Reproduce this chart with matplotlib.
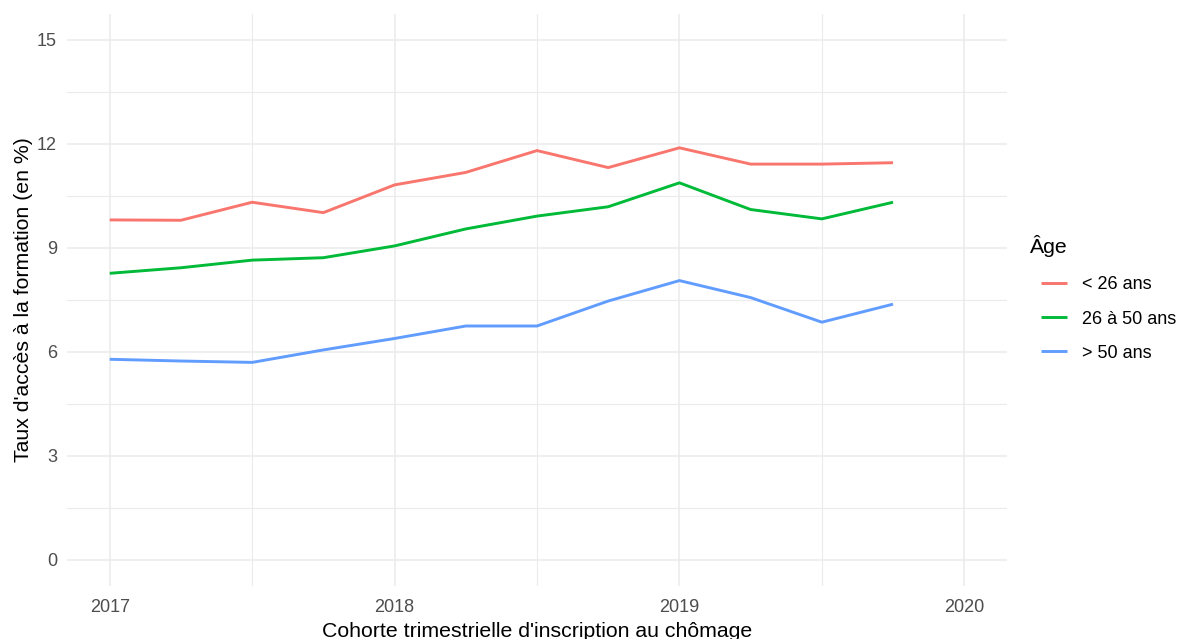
"""Taux d'accès à la formation par cohorte trimestrielle et par âge."""

import matplotlib

matplotlib.use("Agg")
import matplotlib.pyplot as plt
from matplotlib.ticker import MultipleLocator

plt.rcParams["font.family"] = ["Liberation Sans", "DejaVu Sans"]

# quarterly cohorts, 2017 Q1 .. 2019 Q4 (as decimal years)
cohortes = [2017.0, 2017.25, 2017.5, 2017.75,
            2018.0, 2018.25, 2018.5, 2018.75,
            2019.0, 2019.25, 2019.5, 2019.75]

moins_26 = [9.81, 9.80, 10.32, 10.02, 10.82, 11.18,
            11.81, 11.32, 11.89, 11.42, 11.42, 11.46]
de_26_a_50 = [8.27, 8.43, 8.65, 8.72, 9.06, 9.55,
              9.92, 10.19, 10.88, 10.11, 9.84, 10.32]
plus_50 = [5.79, 5.74, 5.70, 6.06, 6.39, 6.75,
           6.75, 7.47, 8.06, 7.57, 6.86, 7.38]

series_labels = ["< 26 ans", "26 à 50 ans", "> 50 ans"]
series_colors = ["#F8766D", "#00BA38", "#619CFF"]

x_ticks = [2017, 2018, 2019, 2020]
y_ticks = [0, 3, 6, 9, 12, 15]

W, H = 1179, 639
fig = plt.figure(figsize=(W / 100, H / 100), dpi=100)
ax = fig.add_axes([67 / W, 1 - 586 / H, 940 / W, 572 / H])

for values, label, color in zip(
    (moins_26, de_26_a_50, plus_50), series_labels, series_colors, strict=True
):
    ax.plot(cohortes, values, color=color, linewidth=2.1, label=label,
            solid_capstyle="butt")

ax.set_xlim(2016.85, 2020.15)
ax.set_ylim(-0.75, 15.75)
ax.set_xticks(x_ticks)
ax.set_yticks(y_ticks)
ax.xaxis.set_minor_locator(MultipleLocator(0.5))
ax.yaxis.set_minor_locator(MultipleLocator(1.5))

ax.grid(which="major", color="#EBEBEB", linewidth=1.1)
ax.grid(which="minor", color="#EBEBEB", linewidth=0.8)
ax.set_axisbelow(True)
for spine in ax.spines.values():
    spine.set_visible(False)
ax.tick_params(which="both", length=0)
ax.tick_params(axis="both", labelsize=13, labelcolor="#4D4D4D")
ax.tick_params(axis="x", pad=9)
ax.tick_params(axis="y", pad=7.2)

ax.set_xlabel("Cohorte trimestrielle d'inscription au chômage",
              fontsize=15.3, color="black", labelpad=4.5)
ax.set_ylabel("Taux d'accès à la formation (en %)",
              fontsize=15.3, color="black", labelpad=3.2)

leg = ax.legend(
    loc="center left",
    bbox_to_anchor=(1041 / W, 1 - 319 / H),
    bbox_transform=fig.transFigure,
    frameon=False,
    fontsize=13,
    handlelength=1.44,
    handletextpad=0.83,
    labelspacing=0.95,
    borderpad=0,
    borderaxespad=0,
)
fig.text(1030 / W, 1 - 246 / H, "Âge", fontsize=15.3, va="center", ha="left")

fig.savefig("out.png", dpi=100, facecolor="white")
